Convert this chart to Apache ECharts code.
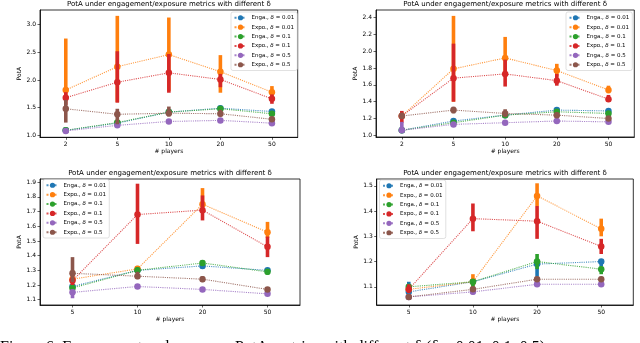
<!DOCTYPE html>
<html><head><meta charset="utf-8">
<script src="https://cdn.jsdelivr.net/npm/echarts@6/dist/echarts.min.js"></script>
<style>html,body{margin:0;padding:0;background:#fff}#c{width:640px;height:343px}</style>
</head><body><div id="c"></div><script>
// ---------- data ----------
const catsTop = ['2', '5', '10', '20', '50'];
const catsBottom = ['5', '10', '20', '50'];
const seriesNames = ['Enga., δ = 0.01', 'Expo., δ = 0.01', 'Enga., δ = 0.1', 'Expo., δ = 0.1', 'Enga., δ = 0.5', 'Expo., δ = 0.5'];
const panelTitle = 'PotA under engagement/exposure metrics with different δ';
const xName = '# players';
const yName = 'PotA';
const captionText = 'Figure 6: Engagement and exposure PotA metrics with different δ (δ = 0.01, 0.1, 0.5)';

// each point: [mean, low, high]
// top-left panel
const tlEnga001 = [[1.09,1.08,1.10],[1.22,1.20,1.24],[1.42,1.40,1.44],[1.49,1.47,1.51],[1.43,1.41,1.45]];
const tlExpo001 = [[1.82,1.72,2.75],[2.24,1.60,3.16],[2.46,1.80,3.13],[2.15,1.77,2.45],[1.78,1.70,1.89]];
const tlEnga01  = [[1.09,1.08,1.10],[1.23,1.21,1.25],[1.42,1.40,1.44],[1.48,1.46,1.50],[1.39,1.36,1.41]];
const tlExpo01  = [[1.68,1.55,1.78],[1.96,1.59,2.52],[2.13,1.77,2.47],[2.01,1.87,2.11],[1.66,1.57,1.74]];
const tlEnga05  = [[1.08,1.07,1.09],[1.18,1.16,1.20],[1.25,1.23,1.27],[1.27,1.26,1.29],[1.22,1.21,1.24]];
const tlExpo05  = [[1.48,1.23,1.64],[1.38,1.20,1.48],[1.40,1.34,1.52],[1.39,1.34,1.46],[1.29,1.26,1.33]];
// top-right panel
const trEnga001 = [[1.06,1.05,1.07],[1.17,1.15,1.19],[1.24,1.22,1.26],[1.30,1.28,1.31],[1.29,1.28,1.31]];
const trExpo001 = [[1.23,1.20,1.27],[1.79,1.40,2.42],[1.92,1.75,2.17],[1.77,1.70,1.85],[1.54,1.50,1.59]];
const trEnga01  = [[1.06,1.05,1.07],[1.15,1.14,1.17],[1.24,1.22,1.26],[1.28,1.26,1.30],[1.26,1.25,1.28]];
const trExpo01  = [[1.23,1.15,1.29],[1.68,1.40,2.09],[1.73,1.58,1.90],[1.65,1.59,1.73],[1.43,1.40,1.48]];
const trEnga05  = [[1.06,1.04,1.16],[1.13,1.11,1.15],[1.15,1.13,1.16],[1.17,1.16,1.18],[1.16,1.15,1.17]];
const trExpo05  = [[1.23,1.20,1.27],[1.30,1.26,1.34],[1.26,1.22,1.31],[1.24,1.22,1.27],[1.20,1.18,1.22]];
// bottom-left panel
const blEnga001 = [[1.19,1.17,1.20],[1.30,1.28,1.33],[1.33,1.31,1.35],[1.30,1.29,1.31]];
const blExpo001 = [[1.24,1.20,1.30],[1.31,1.29,1.33],[1.75,1.70,1.86],[1.56,1.52,1.63]];
const blEnga01  = [[1.18,1.17,1.19],[1.30,1.29,1.32],[1.35,1.33,1.37],[1.29,1.27,1.30]];
const blExpo01  = [[1.23,1.20,1.28],[1.68,1.48,1.89],[1.71,1.64,1.81],[1.46,1.39,1.53]];
const blEnga05  = [[1.15,1.11,1.17],[1.19,1.18,1.20],[1.17,1.16,1.18],[1.14,1.13,1.15]];
const blExpo05  = [[1.28,1.22,1.39],[1.26,1.24,1.29],[1.24,1.22,1.26],[1.17,1.16,1.18]];
// bottom-right panel
const brEnga001 = [[1.08,1.07,1.12],[1.12,1.11,1.13],[1.19,1.14,1.20],[1.20,1.18,1.21]];
const brExpo001 = [[1.09,1.08,1.10],[1.12,1.10,1.15],[1.46,1.42,1.51],[1.33,1.30,1.37]];
const brEnga01  = [[1.10,1.09,1.11],[1.12,1.10,1.13],[1.20,1.17,1.23],[1.17,1.15,1.18]];
const brExpo01  = [[1.09,1.075,1.11],[1.37,1.32,1.43],[1.36,1.29,1.42],[1.26,1.23,1.29]];
const brEnga05  = [[1.06,1.05,1.07],[1.08,1.07,1.09],[1.11,1.10,1.12],[1.11,1.10,1.12]];
const brExpo05  = [[1.06,1.05,1.07],[1.09,1.08,1.10],[1.13,1.12,1.14],[1.13,1.12,1.14]];

const yTicksTL = [1.0, 1.5, 2.0, 2.5, 3.0];
const yTicksTR = [1.0, 1.2, 1.4, 1.6, 1.8, 2.0, 2.2, 2.4];
const yTicksBL = [1.1, 1.2, 1.3, 1.4, 1.5, 1.6, 1.7, 1.8, 1.9];
const yTicksBR = [1.1, 1.2, 1.3, 1.4, 1.5];

// ---------- layout / style ----------
const colors = ['#1f77b4', '#ff7f0e', '#2ca02c', '#d62728', '#9467bd', '#8c564b'];
const FONT = 'DejaVu Sans';
const panels = [
  { cats: catsTop, data: [tlEnga001, tlExpo001, tlEnga01, tlExpo01, tlEnga05, tlExpo05], ticks: yTicksTL, ymin: 0.964, ymax: 3.266,
    grid: { left: 40, top: 10, width: 257.7, height: 127.3 }, legend: { left: 231, top: 12 } },
  { cats: catsTop, data: [trEnga001, trExpo001, trEnga01, trExpo01, trEnga05, trExpo05], ticks: yTicksTR, ymin: 0.98, ymax: 2.49,
    grid: { left: 376, top: 10, width: 258.3, height: 127 }, legend: { left: 566, top: 12 } },
  { cats: catsBottom, data: [blEnga001, blExpo001, blEnga01, blExpo01, blEnga05, blExpo05], ticks: yTicksBL, ymin: 1.064, ymax: 1.922,
    grid: { left: 40, top: 179, width: 260, height: 126 }, legend: { left: 43, top: 179.5 } },
  { cats: catsBottom, data: [brEnga001, brExpo001, brEnga01, brExpo01, brEnga05, brExpo05], ticks: yTicksBR, ymin: 1.028, ymax: 1.527,
    grid: { left: 376.7, top: 179, width: 256.6, height: 126 }, legend: { left: 379.5, top: 180 } }
];

const grids = [], xAxes = [], yAxes = [], legends = [], series = [], graphics = [];
panels.forEach((p, pi) => {
  grids.push(Object.assign({ show: true, borderColor: '#000', borderWidth: 0.8, backgroundColor: '#fff' }, p.grid));
  xAxes.push({
    type: 'category', gridIndex: pi, data: p.cats, boundaryGap: true,
    axisLine: { show: true, lineStyle: { color: '#000', width: 0.8 } },
    axisTick: { show: true, alignWithLabel: true, length: 2.5, lineStyle: { color: '#000', width: 0.6 } },
    axisLabel: { fontFamily: FONT, fontSize: 6, color: '#000', margin: 4 },
    splitLine: { show: false },
    name: xName, nameLocation: 'middle', nameGap: 11.5,
    nameTextStyle: { fontFamily: FONT, fontSize: 6, color: '#000' }
  });
  yAxes.push({
    type: 'value', gridIndex: pi, min: p.ymin, max: p.ymax,
    axisLine: { show: true, lineStyle: { color: '#000', width: 0.8 } },
    axisTick: { show: true, length: 2.5, customValues: p.ticks, lineStyle: { color: '#000', width: 0.6 } },
    axisLabel: { fontFamily: FONT, fontSize: 6, color: '#000', margin: 4, customValues: p.ticks,
      formatter: v => Number(v).toFixed(1) },
    splitLine: { show: false },
    name: yName, nameLocation: 'middle', nameGap: 15, nameRotate: 90,
    nameTextStyle: { fontFamily: FONT, fontSize: 6, color: '#000' }
  });
  legends.push({
    left: p.legend.left, top: p.legend.top, orient: 'vertical',
    data: seriesNames,
    itemWidth: 12, itemHeight: 6.5, itemGap: 2.9,
    padding: [2.5, 3, 2.5, 2.5],
    borderColor: '#cccccc', borderWidth: 0.6, borderRadius: 2,
    backgroundColor: 'rgba(255,255,255,0.85)',
    selectedMode: false,
    textStyle: { fontFamily: FONT, fontSize: 5.5, color: '#000', lineHeight: 6.5,
      rich: { i: { fontFamily: FONT, fontSize: 5.5, fontStyle: 'italic', color: '#000' } } },
    formatter: n => n.replace('δ', '{i|δ}')
  });
  const gx = p.grid.left + p.grid.width / 2;
  graphics.push({
    type: 'text', x: gx, y: p.grid.top - 6, silent: true,
    style: { text: panelTitle, fontFamily: FONT, fontSize: 7, fill: '#000', align: 'center', verticalAlign: 'middle' }
  });
  p.data.forEach((arr, si) => {
    const col = colors[si];
    series.push({
      type: 'custom', name: 'err_' + pi + '_' + si, xAxisIndex: pi, yAxisIndex: pi, z: 10 + si * 2,
      data: arr.map((d, i) => [i, d[1], d[2]]),
      encode: { x: 0, y: [1, 2] },
      renderItem: (params, api) => {
        const x = api.value(0);
        const a = api.coord([x, api.value(1)]);
        const b = api.coord([x, api.value(2)]);
        return { type: 'line', shape: { x1: a[0], y1: a[1], x2: b[0], y2: b[1] },
          style: { stroke: col, lineWidth: 3.6 } };
      },
      silent: true
    });
    series.push({
      type: 'line', name: seriesNames[si], xAxisIndex: pi, yAxisIndex: pi, z: 11 + si * 2,
      data: arr.map(d => d[0]),
      symbol: 'circle', symbolSize: 6.5, showSymbol: true,
      lineStyle: { color: col, width: 1.1, type: 'dotted', opacity: 0.8 },
      itemStyle: { color: col, opacity: 1 },
      emphasis: { disabled: true }, silent: true
    });
  });
});

graphics.push({
  type: 'text', left: 0, top: 340, silent: true,
  style: { text: captionText, fontFamily: 'Liberation Serif', fontSize: 16, fill: '#000' }
});

const chart = echarts.init(document.getElementById('c'), null, { renderer: 'canvas' });
chart.setOption({
  animation: false,
  color: colors,
  grid: grids, xAxis: xAxes, yAxis: yAxes, legend: legends,
  series: series, graphic: graphics
});
</script></body></html>
